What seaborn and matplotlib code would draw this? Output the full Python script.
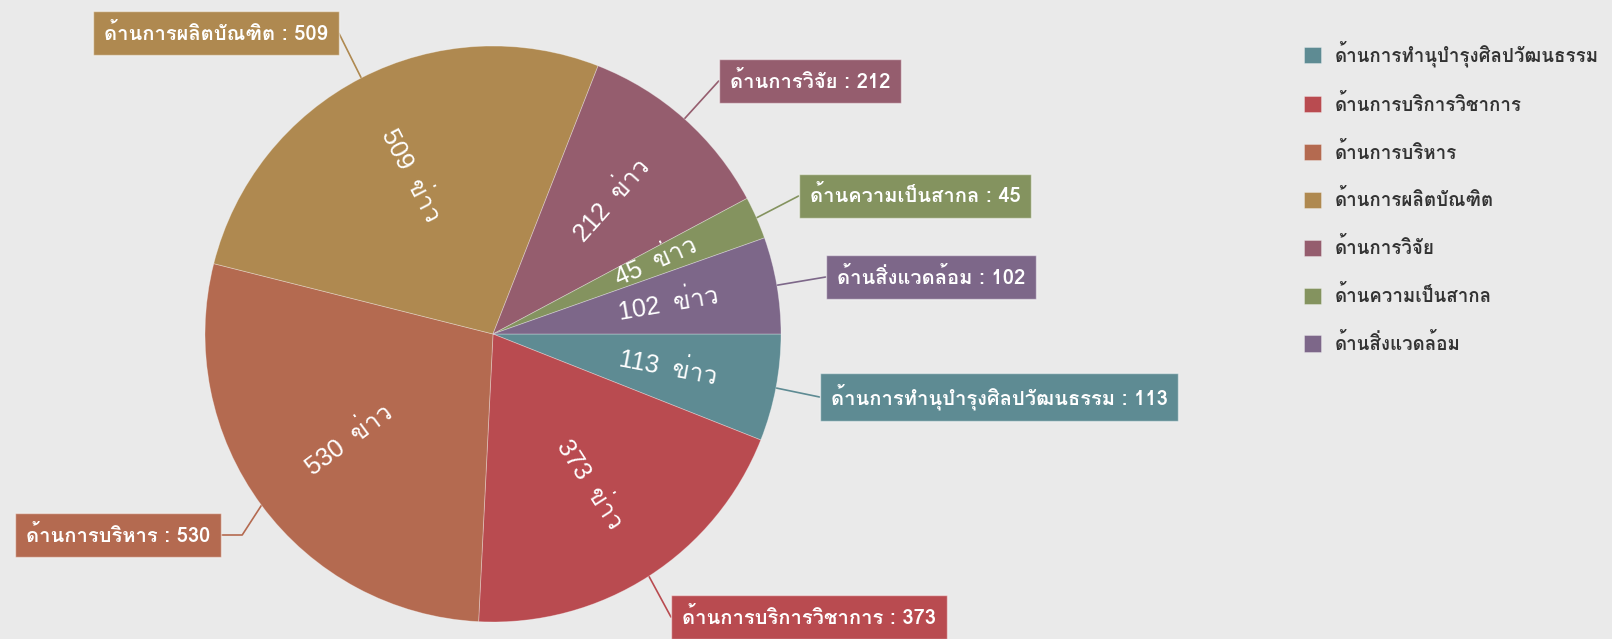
import numpy as np
import matplotlib
matplotlib.use('agg')
import matplotlib.pyplot as plt
import seaborn as sns

# data
categories = ['ด้านการทำนุบำรุงศิลปวัฒนธรรม', 'ด้านการบริการวิชาการ', 'ด้านการบริหาร',
              'ด้านการผลิตบัณฑิต', 'ด้านการวิจัย', 'ด้านความเป็นสากล', 'ด้านสิ่งแวดล้อม']
news_counts = [113, 373, 530, 509, 212, 45, 102]
colors = ['#5e8b93', '#b94b50', '#b46a50', '#af8950', '#955d6e', '#84935f', '#7d6789']

# where the callout boxes sit (figure pixels, y up)
box_pos = [(999, 242), (809, 22), (118, 104), (216, 606), (810, 558), (915, 443), (931, 362)]

sns.set_theme(style='white')
plt.rcParams['font.family'] = ['Loma', 'DejaVu Sans']

fig = plt.figure(figsize=(16.12, 6.39), dpi=100, facecolor='#eaeaea')
ax = fig.add_axes([0, 0, 1, 1])
ax.set_facecolor('#eaeaea')

cx, cy, R = 493, 305, 288
wedges, _ = ax.pie(news_counts, colors=colors, startangle=0, counterclock=False,
                   center=(cx, cy), radius=R, frame=True,
                   wedgeprops=dict(edgecolor=(1, 1, 1, 0.35), linewidth=0.6))
ax.set_xlim(0, 1612)
ax.set_ylim(0, 639)
ax.axis('off')

for w, n, lab, col, (bx, by) in zip(wedges, news_counts, categories, colors, box_pos):
    mid = (w.theta1 + w.theta2) / 2
    mid = (mid + 180) % 360 - 180
    a = np.deg2rad(mid)
    # inside label, rotated along the radius
    rot = mid
    if rot > 90:
        rot -= 180
    elif rot < -90:
        rot += 180
    ax.text(cx + 0.62 * R * np.cos(a), cy + 0.62 * R * np.sin(a), f'{n}  ข่าว',
            color='white', fontsize=18, rotation=rot, rotation_mode='anchor',
            ha='center', va='center', family=['Liberation Sans', 'Loma'])
    # callout box
    right = bx > cx
    t = ax.text(bx, by, f'{lab} : {n}', color='white', fontsize=14.5, fontweight='bold',
                ha='center', va='center',
                bbox=dict(boxstyle='square,pad=0.55', facecolor=col,
                          edgecolor=(1, 1, 1, 0.5), linewidth=1))
    fig.canvas.draw()
    bb = t.get_bbox_patch().get_window_extent().transformed(ax.transData.inverted())
    ex, ey = cx + R * np.cos(a), cy + R * np.sin(a)
    sx = bb.x0 if right else bb.x1
    if lab == 'ด้านการผลิตบัณฑิต':
        xs, ys = [ex, sx], [ey, bb.y1 - 22]
    elif lab == 'ด้านการบริหาร':
        xs, ys = [ex, sx + 21, sx], [ey, by, by]
    else:
        xs, ys = [ex, sx], [ey, by]
    ax.plot(xs, ys, color=col, lw=1.2, zorder=0.5)

leg = ax.legend(wedges, categories, loc='upper left', bbox_to_anchor=(1296 / 1612, 1 - 33 / 639),
                frameon=False, fontsize=13.5, handlelength=0.95, handleheight=0.95,
                labelspacing=1.43, handletextpad=0.7, borderaxespad=0)
for txt in leg.get_texts():
    txt.set_color('#333333')
    txt.set_fontweight('bold')

fig.savefig('out.png', dpi=100, facecolor=fig.get_facecolor())
